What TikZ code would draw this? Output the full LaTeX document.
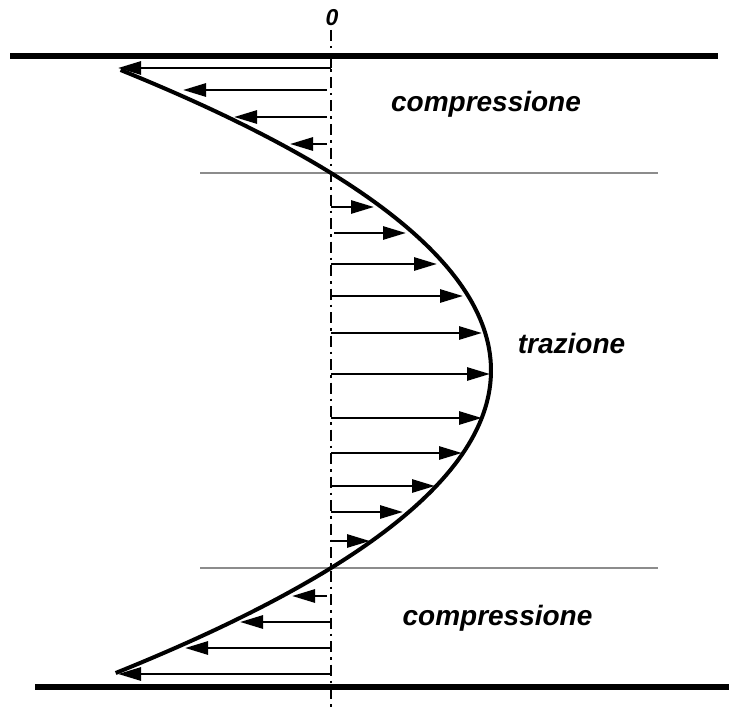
\documentclass[tikz,border=0pt]{standalone}
\usepackage{fontspec}
\setmainfont{Liberation Sans}
\usetikzlibrary{arrows.meta}
\tikzset{
  thickline/.style={line width=5.5pt, black},
  grayline/.style={line width=2.5pt, gray!90},
  axisline/.style={line width=2.6pt, dash pattern=on 11pt off 5pt on 2.5pt off 5pt},
  profile/.style={line width=4pt, line join=round},
  stressarrow/.style={line width=2.8pt, -{Triangle[length=23pt,width=13pt]}},
  lbl/.style={font=\fontsize{28}{30}\selectfont\bfseries\itshape, anchor=base, inner sep=0pt},
  zlbl/.style={font=\fontsize{23}{25}\selectfont\bfseries\itshape, anchor=base, inner sep=0pt}
}
\begin{document}
\begin{tikzpicture}[x=1pt,y=-1pt]
\useasboundingbox (0,0) rectangle (729,709);
% axis
\coordinate (axtop) at (331,30);
\coordinate (axbot) at (331,709);
\draw[axisline] (axtop) -- (axbot);
% horizontal lines
\coordinate (t1) at (10,56); \coordinate (t2) at (718,56);
\coordinate (b1) at (35,687); \coordinate (b2) at (729,687);
\draw[thickline] (t1) -- (t2);
\draw[thickline] (b1) -- (b2);
\coordinate (g1) at (200,173); \coordinate (g2) at (658,173);
\coordinate (g3) at (200,568); \coordinate (g4) at (658,568);
\draw[grayline] (g1) -- (g2);
\draw[grayline] (g3) -- (g4);
% stress profile
\draw[profile] plot[variable=\t, domain=70:673, samples=120] ({331+160*(1-((\t-370.5)/197.5)^2)}, {\t});
% arrows
\foreach \y/\a/\b [count=\i] in {68/331/118, 90/327/183, 117/327/234, 144/327/290,
  207/331/374, 233/334/406, 264/331/437, 296/331/463, 333/331/482, 374/331/490,
  418/331/482, 453/331/462, 486/331/435, 512/331/403, 541/331/370,
  596/327/292, 622/331/240, 648/331/185, 674/331/118}{
  \coordinate (s\i) at (\a,\y);
  \coordinate (e\i) at (\b,\y);
  \draw[stressarrow] (s\i) -- (e\i);
}
% small connector at top arrow tail
\coordinate (k1) at (331,56);
\draw[line width=2.8pt] (k1) -- (s1);
% labels
\node[zlbl] (zero) at (332,26) {0};
\node[lbl] (comp1) at (486,112) {compressione};
\node[lbl] (traz) at (571.5,353) {trazione};
\node[lbl] (comp2) at (497.5,625) {compressione};
\end{tikzpicture}
\end{document}
